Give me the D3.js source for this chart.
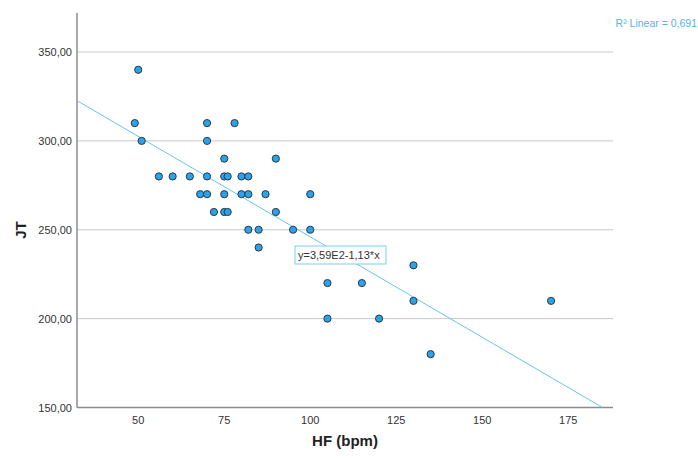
<!DOCTYPE html>
<html lang="en">
<head>
<meta charset="UTF-8">
<title>JT vs HF</title>
<script src="https://cdn.jsdelivr.net/npm/d3@7"></script>
<style>
  body { margin: 0; background: #fff; }
  text { font-family: Arial, "Liberation Sans", sans-serif; }
</style>
</head>
<body>
<svg width="698" height="459"></svg>
<script>
// HF (bpm) and JT per subject
const hf = [50, 49, 51,
  56, 60, 65, 70, 75, 76, 80, 82,
  75, 90,
  70, 78,
  70,
  68, 70, 75, 80, 82, 87, 100,
  72, 75, 76, 90,
  82, 85, 95, 100,
  85,
  105, 115,
  105, 120,
  130,
  130, 170,
  135];
const jt = [340, 310, 300,
  280, 280, 280, 280, 280, 280, 280, 280,
  290, 290,
  310, 310,
  300,
  270, 270, 270, 270, 270, 270, 270,
  260, 260, 260, 260,
  250, 250, 250, 250,
  240,
  220, 220,
  200, 200,
  230,
  210, 210,
  180];
const yTicks = [150, 200, 250, 300, 350];
const xTicks = [50, 75, 100, 125, 150, 175];
const fitA = 359, fitB = -1.13;   // y = 3,59E2 - 1,13*x
const r2Label = "R\u00B2 Linear = 0,691";
const eqLabel = "y=3,59E2-1,13*x";

const data = hf.map((d, i) => ({ x: d, y: jt[i] }));

const svg = d3.select("svg");
const plotL = 77, plotR = 613, plotT = 13, plotB = 407.5;

const x = d3.scaleLinear().domain([32.2, 188]).range([plotL, plotR]);
const y = d3.scaleLinear().domain([150, 350]).range([plotB, 52]);

// gridlines
svg.append("g").selectAll("line")
  .data(yTicks.slice(1))
  .join("line")
  .attr("x1", plotL).attr("x2", plotR)
  .attr("y1", d => y(d)).attr("y2", d => y(d))
  .attr("stroke", "#c8c8c8").attr("stroke-width", 1);

// axes lines
svg.append("line").attr("x1", plotL).attr("x2", plotL).attr("y1", plotT).attr("y2", plotB)
  .attr("stroke", "#8c8c8c").attr("stroke-width", 1.5);
svg.append("line").attr("x1", plotL).attr("x2", plotR).attr("y1", plotB).attr("y2", plotB)
  .attr("stroke", "#8c8c8c").attr("stroke-width", 1.5);

// tick labels
svg.append("g").selectAll("text")
  .data(yTicks)
  .join("text")
  .attr("x", 72).attr("y", d => y(d) + 4)
  .attr("text-anchor", "end")
  .attr("font-size", 11).attr("fill", "#333")
  .text(d => d3.format(".2f")(d).replace(".", ","));

svg.append("g").selectAll("text")
  .data(xTicks)
  .join("text")
  .attr("x", d => x(d)).attr("y", 424)
  .attr("text-anchor", "middle")
  .attr("font-size", 11).attr("fill", "#333")
  .text(d => d);

// axis titles
svg.append("text")
  .attr("x", 345).attr("y", 446)
  .attr("text-anchor", "middle")
  .attr("font-size", 15).attr("font-weight", "bold").attr("fill", "#222")
  .text("HF (bpm)");
svg.append("text")
  .attr("transform", "translate(26,230) rotate(-90)")
  .attr("text-anchor", "middle")
  .attr("font-size", 15).attr("font-weight", "bold").attr("fill", "#222")
  .text("JT");

// fit line, clipped to plot
const x0 = x.domain()[0];
const x1 = Math.min(x.domain()[1], (150 - fitA) / fitB);
svg.append("line")
  .attr("x1", x(x0)).attr("y1", y(fitA + fitB * x0))
  .attr("x2", x(x1)).attr("y2", y(fitA + fitB * x1))
  .attr("stroke", "#66c4f5").attr("stroke-width", 1);

// points
svg.append("g").selectAll("circle")
  .data(data)
  .join("circle")
  .attr("cx", d => x(d.x)).attr("cy", d => y(d.y))
  .attr("r", 3.6)
  .attr("fill", "#2ba2ea")
  .attr("stroke", "#2a3a48").attr("stroke-width", 1);

// equation box
const eq = svg.append("g").attr("transform", "translate(295,246)");
eq.append("rect").attr("width", 91).attr("height", 18)
  .attr("fill", "#fff").attr("stroke", "#7cccf7").attr("stroke-width", 1);
eq.append("text").attr("x", 3).attr("y", 13)
  .attr("font-size", 11).attr("fill", "#333")
  .text(eqLabel);

// R2 label
svg.append("text")
  .attr("x", 697).attr("y", 27)
  .attr("text-anchor", "end")
  .attr("font-size", 10.5).attr("fill", "#4fb3ee")
  .text(r2Label);
</script>
</body>
</html>
